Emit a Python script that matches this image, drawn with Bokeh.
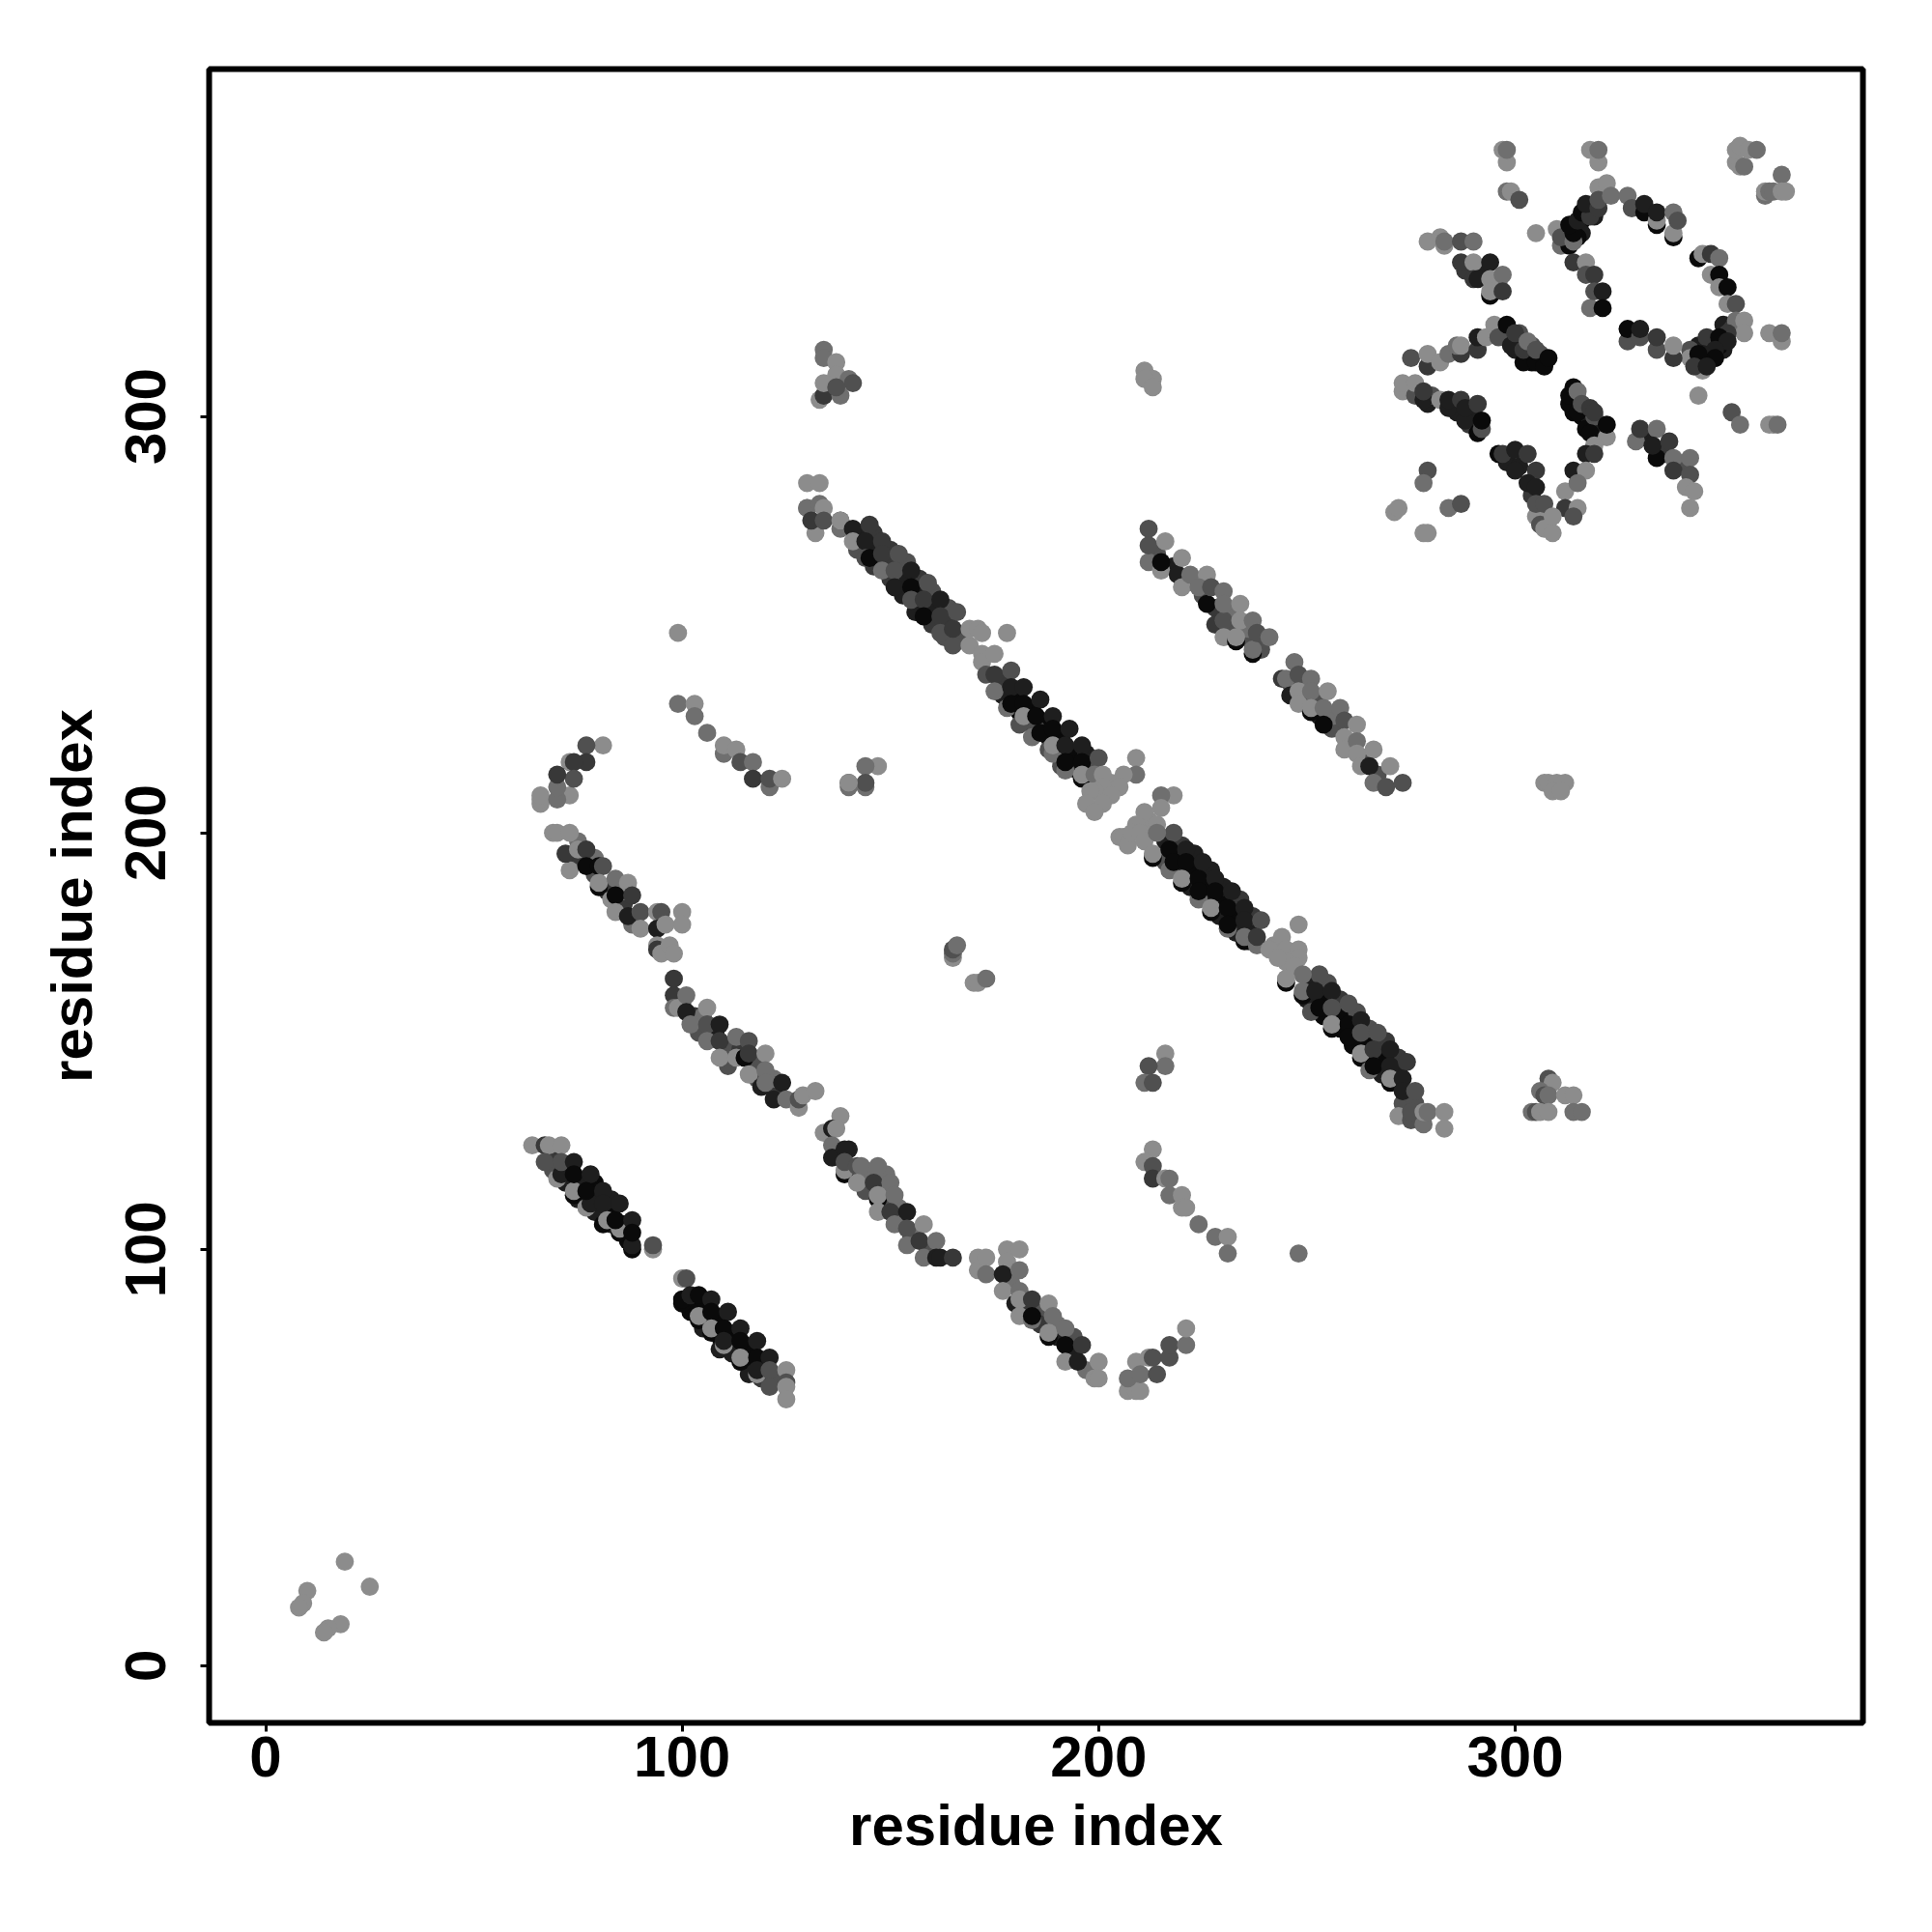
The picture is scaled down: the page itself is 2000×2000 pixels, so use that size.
from bokeh.plotting import figure
from bokeh.models import ColumnDataSource, FixedTicker
from bokeh.embed import file_html
from bokeh.resources import INLINE

tick_values = [0, 100, 200, 300]
axis_title = "residue index"
shades = {1: "#8c8c8c", 2: "#6f6f6f", 3: "#505050", 4: "#383838", 5: "#1e1e1e", 6: "#0a0a0a"}

# (residue i, residue j, contact level)
under_a = [(76,116,5),(79,113,5),(83,109,6),(86,106,6),(73,119,5),(69,123,4),(79,116,6),(83,112,5),(75,112,5),(79,109,5),(83,106,5),(87,102,6),(72,116,5),(69,119,3)]
under_b = [(102,87,6),(106,83,6),(109,79,6),(112,76,6),(116,72,6),(119,69,4),(105,87,6),(109,83,6),(112,79,6),(116,76,6),(119,73,6),(123,69,3),(102,85,6),(105,81,5),(109,76,5),(112,75,5),(116,70,5)]
under_c = [(100,159,4),(103,156,4),(104,152,3),(108,152,5),(111,148,3),(114,148,4),(118,145,3),(111,144,3),(118,141,3),(122,138,4),(105,156,2),(122,141,2)]
under_e = [(138,122,3),(141,118,3),(144,114,3),(148,111,3),(152,107,3),(155,103,3),(159,100,3),(144,118,2),(149,114,2),(149,118,2),(152,110,2),(156,104,2)]
under_d = [(75,194,4),(79,190,3),(82,186,4),(86,183,4),(86,186,2),(79,194,2),(75,198,2),(88,178,2)]
under_f = [(183,86,4),(186,85,3),(186,82,4),(190,79,5),(194,75,5),(197,71,2),(190,82,2),(194,79,3),(179,92,2)]
under_m1 = [(143,272,5),(146,268,5),(150,265,4),(153,261,5),(157,258,5),(160,254,5),(163,251,4),(146,272,4),(150,268,4),(154,265,3),(157,261,4),(160,258,3),(164,254,3),
 (146,264,4),(150,261,4),(153,257,5),(156,253,5),(160,250,4),(167,247,3),(142,268,3),(163,247,3),(177,237,4),(180,233,6),(184,230,6),(187,226,6),(191,223,6),(194,219,6),(198,216,3),
 (177,233,5),(181,229,6),(184,226,6),(188,223,6),(191,219,6),(181,226,3),(185,225,3),(188,220,3),(191,216,3),(195,215,5),(197,219,5)]
under_m2 = [(216,198,5),(219,195,6),(222,191,6),(226,188,6),(229,184,6),(233,181,6),(236,177,5),(220,197,4),(223,195,5),(227,191,5),(230,187,5),(234,184,4),(237,180,4),
 (219,191,5),(222,187,5),(226,184,5),(229,180,5),(233,176,5),(216,193,3),(236,174,4)]
under_m3 = [(251,164,5),(254,160,6),(258,157,6),(261,153,6),(265,150,6),(268,146,6),(272,143,5),(250,160,5),(254,156,6),(258,153,6),(261,149,6),(265,146,5),(268,142,5),
 (255,164,3),(258,160,4),(262,157,3),(265,153,3),(269,150,4),(272,146,4),(273,135,3),(276,135,3)]
under_k1 = [(214,267,3),(218,264,5),(221,260,3),(225,257,3),(228,254,4),(232,250,3),(235,247,3),(239,244,3),(228,250,4),(232,253,2),(236,249,2)]
under_k2 = [(246,236,3),(249,232,3),(252,232,3),(253,228,5),(256,225,3),(260,222,2),(264,218,3),(267,214,3),(256,228,2),(250,236,2)]
under_v = [(316,347,6),(318,350,5),(312,344,6),(316,344,5),(319,348,5),(315,343,6),(311,341,2),(313,341,6)]
under_w = [(350,322,5),(352,321,4),(347,318,6),(350,316,5),(344,317,5),(346,319,4),(342,316,3),(346,314,6),(349,317,6)]
under_x = [(300,318,5),(303,315,6),(301,320,3),(304,317,3),(306,315,3),(300,316,5),(304,313,6),(302,313,6)]
under_y = [(276,307,2),(279,303,5),(280,305,3),(286,301,5),(290,300,5),(289,298,4)]
under_z = [(314,301,6),(315,304,6),(316,300,6),(318,299,5),(320,298,5),(320,295,5),(317,297,6),(319,300,3)]
under_aa = [(298,289,5),(301,288,5),(304,281,4),(307,276,3)]
under_ab = [(331,295,5),(335,292,5),(336,291,4),(340,288,3)]
under_u = [(288,335,4),(292,335,5),(296,332,2)]

corner = [(19,25,1),(25,19,1),(10,18,1),(9,15,1),(8,14,1),(18,10,1),(15,9,1),(14,8,1)]
stripe_a = [(64,125,1),(67,125,4),(68,125,1),(71,125,1),(70,117,1),(71,118,5),(67,121,3),(71,121,3),(74,121,5),
 (74,113,6),(74,114,1),(74,118,6),(78,118,5),(77,110,1),(78,111,5),(77,114,6),(81,114,5),(81,111,5),(81,106,6),
 (82,107,1),(85,111,5),(85,104,6),(85,105,1),(84,107,6),(88,107,5),(88,100,6),(88,101,5),(88,104,6),(93,100,1),(93,101,3)]
stripe_b = [(100,93,1),(101,93,3),(100,87,6),(100,88,6),(102,89,5),(104,89,6),(107,88,5),(104,83,6),(104,84,1),(107,85,6),
 (111,85,5),(107,80,6),(107,81,1),(110,81,6),(114,81,5),(110,77,1),(110,78,5),(114,78,6),(118,78,5),(114,73,6),(114,74,1),
 (118,74,6),(121,74,5),(118,70,1),(118,71,5),(121,71,3),(125,71,1),(121,67,3),(125,68,3),(125,67,1),(125,64,1)]
hook_d = [(81,221,1),(77,221,3),(73,217,1),(77,217,4),(74,217,4),(73,209,1),(66,207,1),(66,208,1),(66,209,1),(70,208,2),(70,211,2),
 (74,213,3),(70,214,4)]
stripe_d = [(69,200,1),(70,200,1),(73,200,1),(73,191,1),(72,195,4),(75,196,1),(77,196,4),(77,192,6),(80,192,6),(81,192,3),(80,187,6),
 (80,188,1),(84,189,2),(87,188,1),(83,184,1),(84,185,6),(88,185,4),(84,181,1),(87,180,5),(90,181,3),(90,177,1)]
patch_d = [(94,181,1),(95,181,3),(100,181,1),(100,178,1),(94,177,5),(96,178,1),(94,173,1),(94,172,4),(95,171,1),(97,173,1),(98,171,1)]
stripe_c = [(98,165,4),(98,161,4),(98,158,2),(99,158,1),(101,161,2),(101,157,5),(106,158,1),(102,154,2),(106,154,3),(109,154,5),(106,150,2),
 (109,150,4),(113,151,2),(116,150,3),(109,146,1),(113,146,1),(115,146,6),(116,147,4),(120,147,1),(116,142,1),(120,143,2),(119,139,5),
 (120,140,2),(124,140,5),(122,136,5),(125,136,2),(128,134,1),(128,136,3),(129,137,1),(132,138,1)]
stripe_e = [(138,132,1),(134,128,1),(136,129,5),(137,129,1),(136,125,2),(136,122,5),(140,124,5),(139,124,5),(139,118,6),(139,119,1),(139,121,3),
 (142,120,3),(143,120,2),(147,120,2),(142,116,1),(146,116,4),(150,116,2),(147,112,6),(147,113,1),(151,113,2),(147,109,1),(150,109,4),
 (154,109,5),(151,106,2),(154,105,3),(158,106,1),(154,101,2),(157,102,4),(161,102,2),(158,98,2),(161,98,5),(162,98,5),(165,98,4)]
patch_f = [(171,98,1),(171,95,1),(173,98,1),(173,94,2),(178,100,1),(181,100,1),(178,97,1),(177,94,5),(181,95,2),(177,90,1)]
stripe_f = [(181,90,2),(180,87,5),(181,88,1),(184,88,4),(188,87,1),(181,84,1),(184,83,2),(184,84,6),(189,84,2),(188,79,6),(188,80,1),(192,81,2),
 (192,77,6),(196,77,4),(192,73,1),(195,73,5),(200,73,1),(199,69,1),(200,69,1)]
hook_g = [(207,66,1),(209,66,1),(210,66,1),(209,73,1),(207,69,2),(210,70,2),(214,70,3),(212,74,1),(213,74,3),(217,74,3),(217,77,3),(221,77,2),(221,81,1)]
tail_g = [(213,124,1),(211,121,1),(213,120,3),(213,117,4),(216,117,1),(217,117,2),(217,113,2),(220,113,1),(220,110,1),(221,110,1),(224,106,2),
 (228,103,2),(231,103,1),(231,99,2),(248,99,2)]
small_h = [(216,147,1),(216,144,2),(212,144,3),(211,140,2),(213,140,3)]
small_i = [(134,316,2),(134,314,2),(137,313,1),(137,310,1),(140,309,2),(141,308,3),(133,304,1),(134,305,4),(134,308,1),(138,305,2),(137,307,3)]
small_j = [(211,311,1),(213,309,1),(211,309,1),(213,307,1)]
stripe_m1 = [(130,284,1),(133,284,1),(130,278,1),(130,278,2),(132,272,1),(131,275,4),(133,279,2),(134,278,1),(134,275,3),(138,273,2),(138,275,3),(138,275,1),
 (141,273,5),(145,274,4),(141,270,1),(144,270,5),(148,270,4),(144,266,3),(145,266,6),(148,267,4),(152,267,3),(148,263,2),(151,263,3),(155,263,5),
 (151,259,5),(155,259,6),(159,260,3),(155,256,3),(158,256,4),(162,256,5),(158,252,6),(162,252,4),(162,248,3),(166,253,3),(165,245,3),(165,249,4),
 (169,245,1),(169,249,1),(171,249,1),(172,248,1),(172,243,1),(172,241,1),(175,243,1),(178,248,1),
 (173,238,3),(175,238,4),(175,234,2),(179,239,3),(178,230,2),(179,235,5),(182,235,5),(179,231,6),(182,231,6),(186,232,5),(182,228,1),(185,228,6),
 (189,228,5),(184,223,2),(186,224,6),(189,225,6),(193,225,5),(189,219,2),(189,221,1),(192,221,5),(196,221,5),(192,215,2),(192,217,6),(196,217,6),(200,218,3),
 (196,213,6),(196,214,1),(199,214,2)]
light_k = [(209,218,1),(209,214,2),(206,214,1),(203,212,1),(201,214,1),(205,211,1),(201,211,1),(199,210,1),(198,210,1),(203,209,1),(201,207,1),(197,207,1),(199,205,1)]
light_l = [(218,209,1),(215,209,2),(215,206,1),(212,203,1),(211,205,1),(209,202,1),(214,202,1),(205,199,1),(206,199,1),(207,197,1),(208,200,1),(210,200,1),(211,198,1)]
stripe_m2 = [(218,200,3),(214,200,2),(213,194,6),(213,195,1),(217,196,6),(221,196,5),(217,191,2),(218,193,6),(221,193,6),(225,193,5),(220,188,6),(220,189,1),(224,189,6),(228,189,5),
 (224,184,2),(224,186,6),(228,186,6),(232,186,5),(227,181,6),(227,182,1),(231,182,6),(235,182,5),(231,177,2),(231,178,6),(235,179,5),(239,179,3),(235,174,6),(235,175,2),(238,173,2),(238,175,4)]
light_n = [(248,178,1),(242,173,1),(244,175,1),(241,172,1),(245,172,1),(248,172,1),(248,170,1),(245,169,1),(243,170,1),(247,168,1)]
stripe_m3 = [(253,166,3),(249,166,2),(245,164,6),(245,165,1),(249,161,6),(249,162,2),(252,162,5),(256,162,5),(251,157,3),(253,158,6),(256,158,3),(260,159,3),(256,153,6),(256,154,1),
 (260,154,6),(263,155,5),(260,151,6),(263,152,3),(267,152,3),(263,146,6),(263,147,1),(266,148,4),(270,148,5),(265,143,2),(266,144,6),(270,144,5),(274,145,4),(270,140,6),(270,141,1),(273,141,5),
 (273,138,5),(276,138,3),(272,132,1),(275,131,3),(278,130,2),(275,133,3),(278,133,1),(279,133,2),(283,133,1),(283,129,1)]
stripe_k1 = [(212,273,3),(212,265,2),(212,269,3),(215,263,1),(216,270,1),(215,265,6),(219,262,5),(220,266,1),(220,259,1),(222,262,2),(226,262,1),(224,259,2),(226,255,6),(227,259,3),(230,258,2),
 (230,251,3),(230,255,2),(234,255,1),(230,247,1),(233,246,6),(233,247,1),(234,251,1),(237,251,2),(237,243,6),(237,244,2),(238,248,3),(241,247,2)]
stripe_k2 = [(247,241,2),(244,237,4),(245,237,2),(248,238,3),(251,237,2),(246,233,5),(248,234,1),(248,231,1),(251,234,2),(255,234,1),(251,229,6),(251,230,1),(254,230,2),(258,230,2),
 (254,226,6),(259,227,3),(262,226,1),(259,223,1),(259,220,1),(262,222,2),(262,219,1),(266,220,1),(263,216,1),(265,216,5),(270,216,1),(266,212,2),(269,211,3),(273,212,3)]
small_o = [(147,216,1),(144,216,2),(144,211,2),(144,212,3),(140,211,2),(140,212,3),(140,212,1)]
tail_p = [(99,248,1),(99,231,2),(103,231,1),(103,228,2),(106,224,2),(110,219,2),(110,221,1),(113,220,1),(114,217,3),(117,217,2),(117,213,4),(121,211,2),(121,213,3),(124,213,1)]
small_q = [(165,170,1),(165,171,2),(165,172,3),(166,173,2),(170,164,1),(171,164,1),(173,165,2)]
small_r = [(307,212,1),(308,212,1),(310,212,1),(312,212,1),(309,210,1),(311,210,1)]
small_s = [(308,141,3),(309,140,1),(306,138,2),(307,137,3),(308,137,2),(312,137,1),(314,137,1),(304,133,2),(305,133,3),(306,133,1),(308,133,1),(314,133,2),(316,133,2)]
top_t = [(298,361,1),(297,364,1),(298,364,2),(318,364,1),(320,361,1),(320,364,2),(353,361,1),(354,360,1),(355,360,2),(353,364,1),(354,365,1),(356,364,1),(358,364,2),
 (364,358,2),(360,353,2),(360,354,1),(361,354,2),(362,354,2),(364,354,1),(365,354,1),(298,354,2),(299,354,1),(301,352,3),(305,344,1)]
sheet_u = [(279,342,1),(282,343,1),(283,341,1),(283,342,2),(287,342,3),(290,342,2),(287,337,4),(290,337,1),(294,337,5),(290,333,4),(291,333,5),(294,333,1),(297,334,2),(294,329,6),(294,330,1),(297,330,4)]
ring_v = [(314,337,4),(317,337,1),(317,334,3),(319,334,4),(318,326,2),(319,330,3),(321,330,5),(321,326,6),
 (310,345,1),(311,343,3),(314,342,2),(314,344,6),(313,346,6),(315,347,5),(316,349,6),(318,348,4),(317,351,5),(320,350,4),(320,355,1),(322,356,1),(320,352,3),(323,353,2),(327,353,2),(328,350,3),
 (331,349,6),(331,351,5),(334,346,6),(334,347,1),(334,349,5),(338,349,2),(338,343,6),(338,344,1),(339,347,3)]
ring_w = [(344,338,6),(345,339,1),(347,339,4),(349,338,2),(347,334,1),(349,334,6),(349,331,1),(351,331,6),(351,327,1),(353,327,3),(353,323,2),(355,323,1),(355,320,1),(351,320,4),(349,319,6),(351,318,5),
 (348,316,5),(345,315,5),(348,314,6),(345,313,6),(342,314,1),(344,315,6),(345,311,1),(343,312,4),(346,312,5),(361,320,1),(364,318,1),(364,320,2),
 (327,318,3),(327,321,6),(330,319,3),(330,321,5),(334,316,3),(334,319,4),(338,314,4),(338,317,1)]
sheet_x = [(275,314,3),(279,312,4),(279,315,1),(282,313,1),(284,315,2),(287,315,4),(286,317,2),(287,317,1),(291,316,4),(291,319,5),(293,319,1),(295,322,1),(296,319,3),(298,322,6),(299,317,5),(300,320,4),
 (302,316,4),(303,318,2),(305,313,6),(305,316,3),(307,312,6),(308,314,6)]
sheet_y = [(273,306,1),(273,308,1),(276,305,3),(276,308,1),(278,304,5),(278,306,4),(282,304,1),(284,302,5),(284,304,5),(287,304,4),(288,299,5),(288,302,5),(291,303,4),(291,296,6),(292,297,3),(292,299,6)]
sheet_z = [(313,303,6),(313,305,6),(314,307,6),(315,306,2),(315,301,6),(316,303,3),(318,296,6),(318,302,4),(319,301,4),(322,295,1),(322,298,6),(319,293,1),(317,291,5),(319,291,4),(314,287,5),(317,287,1),
 (312,282,1),(315,284,2),(312,278,4),(315,278,1),(314,276,3)]
sheet_aa = [(296,291,6),(297,291,4),(300,292,5),(303,291,4),(300,287,5),(305,287,4),(303,284,5),(305,283,5),(305,276,1),(305,279,3),(307,279,3),(306,274,3),(307,273,1),(309,272,1),(309,276,1)]
sheet_ab = [(329,294,2),(330,297,4),(334,297,2),(334,290,6),(333,293,5),(337,294,4),(338,290,2),(338,287,4),(342,290,2),(342,286,3),(341,283,1),(343,282,1),(342,278,1)]
misc_ac = [(344,305,1),(352,301,3),(354,298,2),(361,298,1),(362,298,1),(363,298,2),(279,287,3),(278,284,2),(271,277,1),(272,278,1),(284,278,2),(287,279,3),(278,272,1),(279,272,1)]

groups = [under_a, under_b, under_c, under_e, under_d, under_f, under_m1, under_m2, under_m3, under_k1, under_k2, under_v, under_w,
          under_x, under_y, under_z, under_aa, under_ab, under_u,
          corner, stripe_a, stripe_b, hook_d, stripe_d, patch_d, stripe_c, stripe_e, patch_f, stripe_f, hook_g, tail_g,
          small_h, small_i, small_j, stripe_m1, light_k, light_l, stripe_m2, light_n, stripe_m3, stripe_k1, stripe_k2,
          small_o, tail_p, small_q, small_r, small_s, top_t, sheet_u, ring_v, ring_w, sheet_x, sheet_y, sheet_z,
          sheet_aa, sheet_ab, misc_ac]
rows = [r for g in groups for r in g]
source = ColumnDataSource(dict(x=[r[0] for r in rows], y=[r[1] for r in rows], c=[shades[r[2]] for r in rows]))

p = figure(width=1992, height=1992, frame_width=1712, frame_height=1712, output_backend="svg", toolbar_location=None,
           x_range=(-13.57, 383.5), y_range=(-13.7, 383.4), min_border_left=216, min_border_right=64,
           min_border_top=71, min_border_bottom=209, background_fill_color="white", border_fill_color="white")
p.circle("x", "y", radius=2.18, source=source, fill_color="c", line_color=None)

p.grid.visible = False
p.outline_line_color = "black"
p.outline_line_width = 6
for ax in (p.xaxis[0], p.yaxis[0]):
    ax.ticker = FixedTicker(ticks=tick_values)
    ax.minor_tick_line_color = None
    ax.axis_line_color = None
    ax.major_tick_line_color = "black"
    ax.major_tick_line_width = 3
    ax.major_tick_in = 0
    ax.major_tick_out = 9
    ax.major_label_text_font = "Liberation Sans"
    ax.major_label_text_font_style = "bold"
    ax.major_label_text_font_size = "60px"
    ax.major_label_text_color = "black"
    ax.axis_label = axis_title
    ax.axis_label_text_font = "Liberation Sans"
    ax.axis_label_text_font_style = "bold"
    ax.axis_label_text_font_size = "60px"
    ax.axis_label_text_color = "black"
p.xaxis[0].major_label_standoff = 5
p.xaxis[0].axis_label_standoff = 14
p.yaxis[0].major_label_orientation = "vertical"
p.yaxis[0].major_label_standoff = 36
p.yaxis[0].axis_label_standoff = 20

open("out.html", "w").write(file_html(p, INLINE))
